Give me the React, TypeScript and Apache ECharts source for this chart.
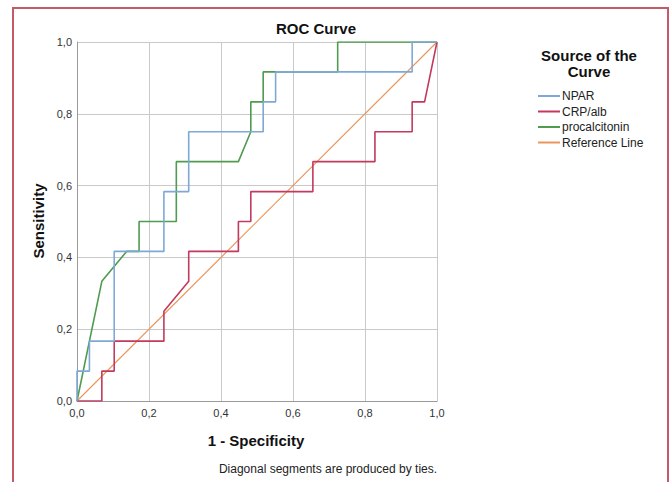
import React, { useEffect, useRef } from "react";
import * as echarts from "echarts";

const seriesNames = ["NPAR", "CRP/alb", "procalcitonin", "Reference Line"];
const colors = ["#7ea9d6", "#c23a5e", "#4f9b4f", "#e9965c"];

// ROC points: [1 - specificity, sensitivity]
const npar: [number, number][] = [
  [0, 0], [0, 0.0833], [0.0345, 0.0833], [0.0345, 0.1667], [0.1034, 0.1667], [0.1034, 0.4167],
  [0.2414, 0.4167], [0.2414, 0.5833], [0.3103, 0.5833], [0.3103, 0.75], [0.5172, 0.75],
  [0.5172, 0.8333], [0.5517, 0.8333], [0.5517, 0.9167], [0.931, 0.9167], [0.931, 1], [1, 1],
];
const crpAlb: [number, number][] = [
  [0, 0], [0.069, 0], [0.069, 0.0833], [0.1034, 0.0833], [0.1034, 0.1667], [0.2414, 0.1667],
  [0.2414, 0.25], [0.3103, 0.3333], [0.3103, 0.4167], [0.4483, 0.4167], [0.4483, 0.5],
  [0.4828, 0.5], [0.4828, 0.5833], [0.6552, 0.5833], [0.6552, 0.6667], [0.8276, 0.6667],
  [0.8276, 0.75], [0.931, 0.75], [0.931, 0.8333], [0.9655, 0.8333], [1, 1],
];
const procalcitonin: [number, number][] = [
  [0, 0], [0.069, 0.3333], [0.1379, 0.4167], [0.1724, 0.4167], [0.1724, 0.5], [0.2759, 0.5],
  [0.2759, 0.6667], [0.4483, 0.6667], [0.4828, 0.75], [0.4828, 0.8333], [0.5172, 0.8333],
  [0.5172, 0.9167], [0.7241, 0.9167], [0.7241, 1], [1, 1],
];
const referenceLine: [number, number][] = [[0, 0], [1, 1]];

const tickValues = [0, 0.2, 0.4, 0.6, 0.8, 1.0];

const FONT = "Liberation Sans";

export default function App() {
  const ref = useRef<HTMLDivElement>(null);
  useEffect(() => {
    if (!ref.current) return;
    const chart = echarts.init(ref.current, null, { renderer: "svg" });
    const fmt = (v: number) => v.toFixed(1).replace(".", ",");
    const axisCommon = {
      type: "value" as const,
      min: tickValues[0],
      max: tickValues[tickValues.length - 1],
      interval: 0.2,
      axisLine: { show: true, lineStyle: { color: "#9a9a9a", width: 1 } },
      axisTick: { show: false },
      splitLine: { show: true, lineStyle: { color: "#c9c9c9", width: 1 } },
      axisLabel: { formatter: fmt, color: "#333", fontSize: 11, fontFamily: FONT },
    };
    const datas = [npar, crpAlb, procalcitonin, referenceLine];
    chart.setOption({
      animation: false,
      backgroundColor: "#fff",
      textStyle: { fontFamily: FONT },
      grid: { left: 77, top: 42, width: 360, height: 359 },
      xAxis: { ...axisCommon, axisLabel: { ...axisCommon.axisLabel, margin: 6 } },
      yAxis: { ...axisCommon, axisLabel: { ...axisCommon.axisLabel, margin: 5 } },
      legend: {
        orient: "vertical",
        left: 533,
        top: 85,
        itemWidth: 22,
        itemHeight: 2,
        itemGap: 3.5,
        icon: "rect",
        textStyle: { fontSize: 12, color: "#222", fontFamily: FONT, padding: [0, 0, 0, -3] },
        data: seriesNames,
      },
      series: datas.map((d, i) => ({
        name: seriesNames[i],
        type: "line",
        data: d,
        showSymbol: false,
        symbol: "none",
        z: i === 3 ? 1 : 3 - i + 1,
        lineStyle: { color: colors[i], width: i === 3 ? 1.2 : 1.6 },
        itemStyle: { color: colors[i] },
      })),
      graphic: [
        {
          type: "rect",
          shape: { x: 13, y: 8, width: 655, height: 500 },
          style: { fill: "none", stroke: "#c35b66", lineWidth: 2 },
          silent: true,
        },
        {
          type: "text",
          x: 316,
          y: 28,
          style: { text: "ROC Curve", font: `bold 15px ${FONT}`, fill: "#111", align: "center", verticalAlign: "middle" },
        },
        {
          type: "text",
          x: 38,
          y: 221,
          rotation: Math.PI / 2,
          style: { text: "Sensitivity", font: `bold 15px ${FONT}`, fill: "#111", align: "center", verticalAlign: "middle" },
        },
        {
          type: "text",
          x: 256,
          y: 440,
          style: { text: "1 - Specificity", font: `bold 15px ${FONT}`, fill: "#111", align: "center", verticalAlign: "middle" },
        },
        {
          type: "text",
          x: 328,
          y: 469,
          style: { text: "Diagonal segments are produced by ties.", font: `12px ${FONT}`, fill: "#222", align: "center", verticalAlign: "middle" },
        },
        {
          type: "text",
          x: 589,
          y: 55,
          style: { text: "Source of the", font: `bold 15px ${FONT}`, fill: "#111", align: "center", verticalAlign: "middle" },
        },
        {
          type: "text",
          x: 589,
          y: 71,
          style: { text: "Curve", font: `bold 15px ${FONT}`, fill: "#111", align: "center", verticalAlign: "middle" },
        },
      ],
    });
    return () => chart.dispose();
  }, []);
  return (
    <div
      ref={ref}
      style={{ position: "absolute", left: 0, top: 0, width: 670, height: 482 }}
    />
  );
}
